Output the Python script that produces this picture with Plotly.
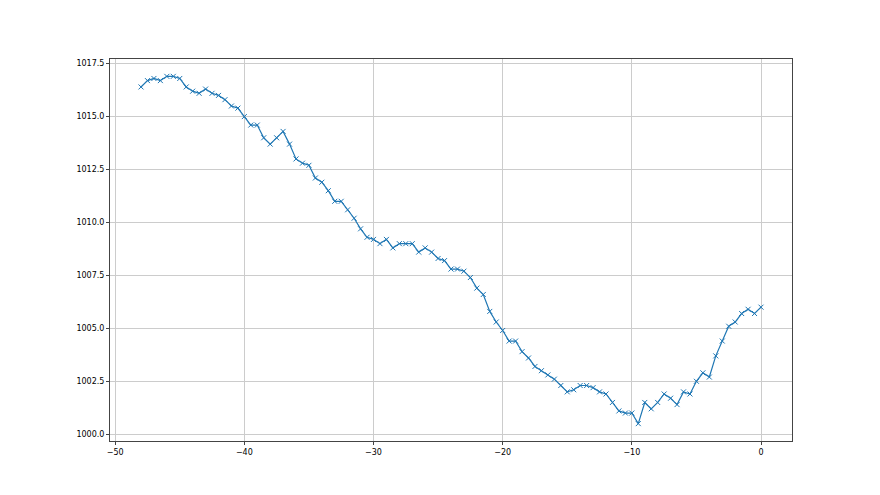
import plotly.graph_objects as go

x_vals = [-48, -47.5, -47, -46.5, -46, -45.5, -45, -44.5, -44, -43.5, -43, -42.5, -42, -41.5,
          -41, -40.5, -40, -39.5, -39, -38.5, -38, -37.5, -37, -36.5, -36, -35.5, -35, -34.5,
          -34, -33.5, -33, -32.5, -32, -31.5, -31, -30.5, -30, -29.5, -29, -28.5, -28, -27.5,
          -27, -26.5, -26, -25.5, -25, -24.5, -24, -23.5, -23, -22.5, -22, -21.5, -21, -20.5,
          -20, -19.5, -19, -18.5, -18, -17.5, -17, -16.5, -16, -15.5, -15, -14.5, -14, -13.5,
          -13, -12.5, -12, -11.5, -11, -10.5, -10, -9.5, -9, -8.5, -8, -7.5, -7, -6.5,
          -6, -5.5, -5, -4.5, -4, -3.5, -3, -2.5, -2, -1.5, -1, -0.5, 0]

pressure = [1016.4, 1016.7, 1016.8, 1016.7, 1016.9, 1016.9, 1016.8, 1016.4, 1016.2, 1016.1,
            1016.3, 1016.1, 1016.0, 1015.8, 1015.5, 1015.4, 1015.0, 1014.6, 1014.6, 1014.0,
            1013.7, 1014.0, 1014.3, 1013.7, 1013.0, 1012.8, 1012.7, 1012.1, 1011.9, 1011.5,
            1011.0, 1011.0, 1010.6, 1010.2, 1009.7, 1009.3, 1009.2, 1009.0, 1009.2, 1008.8,
            1009.0, 1009.0, 1009.0, 1008.6, 1008.8, 1008.6, 1008.3, 1008.2, 1007.8, 1007.8,
            1007.7, 1007.4, 1006.9, 1006.6, 1005.8, 1005.3, 1004.9, 1004.4, 1004.4, 1003.9,
            1003.6, 1003.2, 1003.0, 1002.8, 1002.6, 1002.3, 1002.0, 1002.1, 1002.3, 1002.3,
            1002.2, 1002.0, 1001.9, 1001.5, 1001.1, 1001.0, 1001.0, 1000.5, 1001.5, 1001.2,
            1001.5, 1001.9, 1001.7, 1001.4, 1002.0, 1001.9, 1002.5, 1002.9, 1002.7, 1003.7,
            1004.4, 1005.1, 1005.3, 1005.7, 1005.9, 1005.7, 1006.0]

x_ticks = [-50, -40, -30, -20, -10, 0]
y_ticks = [1000.0, 1002.5, 1005.0, 1007.5, 1010.0, 1012.5, 1015.0, 1017.5]

xmin, xmax = min(x_vals), max(x_vals)
ymin, ymax = min(pressure), max(pressure)
xpad = 0.05 * (xmax - xmin)
ypad = 0.05 * (ymax - ymin)

fig = go.Figure()
fig.add_trace(go.Scatter(
    x=x_vals, y=pressure, mode="lines+markers",
    line=dict(color="#1f77b4", width=1.2),
    marker=dict(symbol="x-thin", size=5, color="#1f77b4",
                line=dict(width=1, color="#1f77b4")),
    showlegend=False,
))

axis_common = dict(
    showline=True, linecolor="#444444", linewidth=1, mirror=True,
    showgrid=True, gridcolor="#cccccc", gridwidth=1,
    zeroline=False, ticks="outside", ticklen=3, tickwidth=1, tickcolor="#444444",
    tickfont=dict(family="DejaVu Sans", size=8, color="black"),
)

fig.update_layout(
    width=880, height=495,
    margin=dict(l=102, r=96, t=51, b=62),
    paper_bgcolor="white", plot_bgcolor="white",
    xaxis=dict(range=[xmin - xpad, xmax + xpad], tickvals=x_ticks,
               ticktext=[("\u2212" + str(abs(v))) if v < 0 else str(v) for v in x_ticks],
               **axis_common),
    yaxis=dict(range=[ymin - ypad, ymax + ypad], tickvals=y_ticks,
               tickformat=".1f", **axis_common),
)

fig.write_html("out.html")
